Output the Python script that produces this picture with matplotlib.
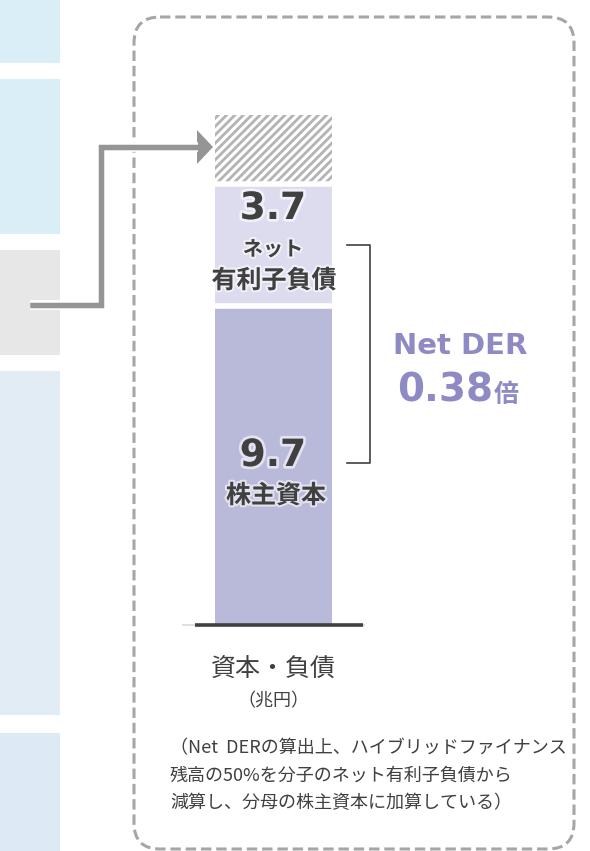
import matplotlib.pyplot as plt
import matplotlib.patheffects as pe
from matplotlib.patches import FancyBboxPatch, Rectangle, Polygon

plt.rcParams['font.family'] = ['DejaVu Sans', 'Noto Sans CJK JP']
plt.rcParams['lines.scale_dashes'] = False
plt.rcParams['hatch.linewidth'] = 2.0
plt.rcParams['hatch.color'] = '#B3B3B3'

# データ（兆円）
category = "資本・負債"
unit = "（兆円）"
equity = 9.7
net_debt = 3.7
hybrid = 2.1          # 斜線部分
net_der = 0.38
seg_labels = ["株主資本", "ネット\n有利子負債"]
note_lines = [
    "（Net  DERの算出上、ハイブリッドファイナンス",
    "残高の50%を分子のネット有利子負債から",
    "減算し、分母の株主資本に加算している）",
]

dark = '#404040'
purple = '#8E8BC4'

W, H = 590, 851
fig = plt.figure(figsize=(W / 100, H / 100), dpi=100)

# 積み上げ棒
px_per_unit = 32.9
ax = fig.add_axes([182 / W, 1 - 625 / H, 183 / W, 525 / H])
ax.set_xlim(-0.5, 0.5)
ax.set_ylim(0, 525 / px_per_unit)
ax.axis('off')
ax.set_zorder(1)

ax.bar(0, equity, width=0.64, color='#B9B9DA', lw=0)
ax.bar(0, net_debt, bottom=equity, width=0.64, color='#DCDCEE', lw=0)
ax.bar(0, hybrid, bottom=equity + net_debt, width=0.64, color='white',
       edgecolor='#B3B3B3', hatch='////', lw=0)
ax.hlines([equity, equity + net_debt], -0.33, 0.33, colors='white', lw=4)
ax.hlines(0, -0.5, 0.5, colors='#E0E0E0', lw=1.5, clip_on=False)
ax.hlines(0, -0.43, 0.49, colors=dark, lw=2.6, clip_on=False)

# 前面の座標系（ピクセル）
bg = fig.add_axes([0, 0, 1, 1])
bg.set_xlim(0, W)
bg.set_ylim(H, 0)
bg.axis('off')
bg.set_zorder(2)

# 左側の帯
strips = [(0, 63, '#DAEEF8'), (79, 234, '#DAEEF8'), (250, 355, '#E7E7E7'),
          (371, 715, '#E1ECF5'), (733, 851, '#DDE9F4')]
for y0, y1, c in strips:
    bg.add_patch(Rectangle((0, y0), 60, y1 - y0, color=c, lw=0))

# 破線の枠
bg.add_patch(FancyBboxPatch((134, 17), 574 - 134, 849 - 17,
                            boxstyle="round,pad=0,rounding_size=26",
                            fill=False, ec='#A6A6A6', lw=2.2,
                            ls=(0, (7.5, 3.5))))

# 矢印（白い縁取りで破線を切る）
bg.plot([30, 101, 101, 198], [305, 305, 147, 147], color='#959595',
        lw=3.8, solid_joinstyle='miter', solid_capstyle='butt',
        path_effects=[pe.withStroke(linewidth=7, foreground='white'),
                      pe.Normal()])
bg.add_patch(Polygon([(197, 130), (213, 147), (197, 164)], closed=True,
                     color='#959595', lw=0))

# 括弧
bg.plot([347, 370, 370, 347], [245, 245, 463, 463], color=dark, lw=1.2)

glow = [pe.withStroke(linewidth=4, foreground='white', alpha=0.6)]
glow2 = [pe.withStroke(linewidth=3, foreground='white', alpha=0.6)]

bg.text(273, 209, f"{net_debt:.1f}", ha='center', va='center', fontsize=27,
        fontweight='bold', color=dark, path_effects=glow)
bg.text(273, 249, seg_labels[1].split("\n")[0], ha='center', va='center',
        fontsize=14.5, fontweight='bold', color=dark, path_effects=glow2,
        family='Noto Sans CJK JP')
bg.text(274, 281, seg_labels[1].split("\n")[1], ha='center', va='center',
        fontsize=18, fontweight='bold', color=dark, path_effects=glow2,
        family='Noto Sans CJK JP')
bg.text(273, 456, f"{equity:.1f}", ha='center', va='center', fontsize=27,
        fontweight='bold', color=dark, path_effects=glow)
bg.text(276, 496, seg_labels[0], ha='center', va='center', fontsize=18,
        fontweight='bold', color=dark, path_effects=glow2,
        family='Noto Sans CJK JP')

# Net DER
bg.text(460, 346, "Net DER", ha='center', va='center', fontsize=21,
        fontweight='bold', color=purple)
bg.text(493, 402, f"{net_der:.2f}", ha='right', va='baseline', fontsize=28,
        fontweight='bold', color=purple)
bg.text(494, 402, "倍", ha='left', va='baseline', fontsize=18,
        fontweight='bold', color=purple, family='Noto Sans CJK JP')

# 軸ラベル
bg.text(273, 669, category, ha='center', va='center', fontsize=18,
        color=dark, family='Noto Sans CJK JP')
bg.text(273, 701, unit, ha='center', va='center', fontsize=13,
        color=dark, family='Noto Sans CJK JP')

# 注記
for i, line in enumerate(note_lines):
    bg.text(170, 748 + 27.5 * i, line, ha='left', va='center', fontsize=13,
            color=dark, family=['Noto Sans CJK JP', 'DejaVu Sans'])

fig.savefig("out.png", dpi=100)
